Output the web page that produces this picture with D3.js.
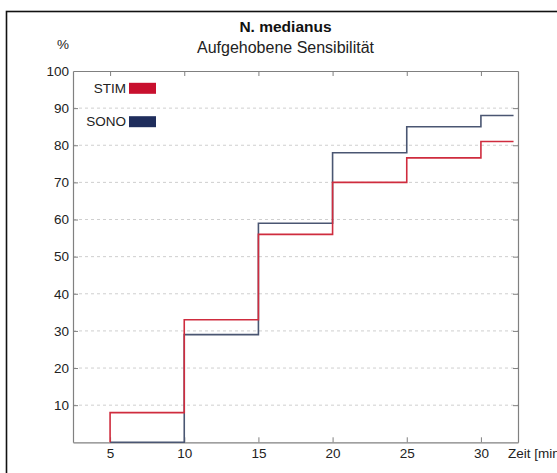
<!DOCTYPE html>
<html>
<head>
<meta charset="utf-8">
<script src="https://cdn.jsdelivr.net/npm/d3@7/dist/d3.min.js"></script>
<style>
  html, body { margin: 0; padding: 0; background: #fff; }
  svg { display: block; font-family: "Liberation Sans", Arial, sans-serif; }
</style>
</head>
<body>
<svg id="chart" width="557" height="473"></svg>
<script>
// Time points (min) where the cumulative curves step; last entry is the plot end
const times = [5, 10, 15, 20, 25, 30, 32.2];
// Share of patients with abolished sensation (%)
const stimValues = [8, 33, 56, 70, 76.6, 81, 81];
const sonoValues = [0, 29, 59, 78, 85, 88, 88];
const xTicks = [5, 10, 15, 20, 25, 30];
const yTicks = [10, 20, 30, 40, 50, 60, 70, 80, 90, 100];
const seriesNames = ["STIM", "SONO"];
const seriesColors = ["#c8102e", "#1f2d5c"];
const lineColors = ["#cf2c3e", "#4a5672"];

const svg = d3.select("#chart");
const labelSize = "13.5px";

// outer frame
svg.append("rect")
  .attr("x", 6.5).attr("y", 11.5)
  .attr("width", 600).attr("height", 500)
  .attr("fill", "none").attr("stroke", "#111").attr("stroke-width", 1.6);

const plotLeft = 73, plotRight = 518, plotTop = 71, plotBottom = 442.3;
const x = d3.scaleLinear().domain([2.5, 32.5]).range([plotLeft, plotRight]);
const y = d3.scaleLinear().domain([0, 100]).range([plotBottom, plotTop]);

// dashed grid lines
svg.append("g").selectAll("line")
  .data(yTicks.filter(v => v < 100))
  .join("line")
  .attr("x1", plotLeft).attr("x2", plotRight)
  .attr("y1", d => y(d)).attr("y2", d => y(d))
  .attr("stroke", "#cfcfcf").attr("stroke-width", 1)
  .attr("stroke-dasharray", "3,3");

// axes: ticks drawn inward on all four sides
const axisColor = "#808080";
const bottomAxis = svg.append("g")
  .attr("transform", `translate(0,${plotBottom})`)
  .call(d3.axisBottom(x).tickValues(xTicks).tickSizeInner(-5).tickSizeOuter(0).tickPadding(6));
const topAxis = svg.append("g")
  .attr("transform", `translate(0,${plotTop})`)
  .call(d3.axisTop(x).tickValues(xTicks).tickSizeInner(-5).tickSizeOuter(0).tickFormat(""));
const leftAxis = svg.append("g")
  .attr("transform", `translate(${plotLeft},0)`)
  .call(d3.axisLeft(y).tickValues(yTicks).tickSizeInner(-5).tickSizeOuter(0).tickPadding(4));
const rightAxis = svg.append("g")
  .attr("transform", `translate(${plotRight},0)`)
  .call(d3.axisRight(y).tickValues(yTicks).tickSizeInner(-5).tickSizeOuter(0).tickFormat(""));

[bottomAxis, topAxis, leftAxis, rightAxis].forEach(g => {
  g.select(".domain").attr("stroke", axisColor).attr("stroke-width", 1.2);
  g.selectAll(".tick line").attr("stroke", axisColor);
  g.selectAll(".tick text").attr("fill", "#222").style("font-size", labelSize)
    .style("font-family", "'Liberation Sans', Arial, sans-serif");
});
// the 100 tick marks on the side edges coincide with the top border
leftAxis.selectAll(".tick").filter(d => d === 100).select("line").remove();
rightAxis.selectAll(".tick").filter(d => d === 100).select("line").remove();

// step curves
const line = d3.line()
  .x(d => x(d[0])).y(d => y(d[1]))
  .curve(d3.curveStepAfter);

const series = [stimValues, sonoValues];
// draw SONO first so STIM sits on top where they overlap
[1, 0].forEach(i => {
  const pts = [[times[0], 0]].concat(times.map((t, k) => [t, series[i][k]]));
  svg.append("path")
    .datum(pts)
    .attr("fill", "none")
    .attr("stroke", lineColors[i])
    .attr("stroke-width", 1.6)
    .attr("d", line);
});

// legend
const legY = [88.3, 121.7];
seriesNames.forEach((name, i) => {
  svg.append("text")
    .attr("x", 126).attr("y", legY[i]).attr("dy", "0.35em")
    .attr("text-anchor", "end")
    .style("font-size", labelSize).attr("fill", "#222")
    .text(name);
  svg.append("rect")
    .attr("x", 129).attr("y", legY[i] - 5.5)
    .attr("width", 27).attr("height", 11)
    .attr("fill", seriesColors[i]);
});

// titles
svg.append("text")
  .attr("x", 285.5).attr("y", 26.7).attr("dy", "0.35em")
  .attr("text-anchor", "middle")
  .style("font-size", "15.5px").style("font-weight", "bold").attr("fill", "#111")
  .text("N. medianus");
svg.append("text")
  .attr("x", 285.5).attr("y", 47.3).attr("dy", "0.35em")
  .attr("text-anchor", "middle")
  .style("font-size", "16px").attr("fill", "#222")
  .text("Aufgehobene Sensibilität");

// axis unit labels
svg.append("text")
  .attr("x", 63).attr("y", 44.5).attr("dy", "0.35em")
  .attr("text-anchor", "middle")
  .style("font-size", labelSize).attr("fill", "#222")
  .text("%");
svg.append("text")
  .attr("x", 508).attr("y", 453.5).attr("dy", "0.35em")
  .style("font-size", labelSize).attr("fill", "#222")
  .text("Zeit [min]");
</script>
</body>
</html>
